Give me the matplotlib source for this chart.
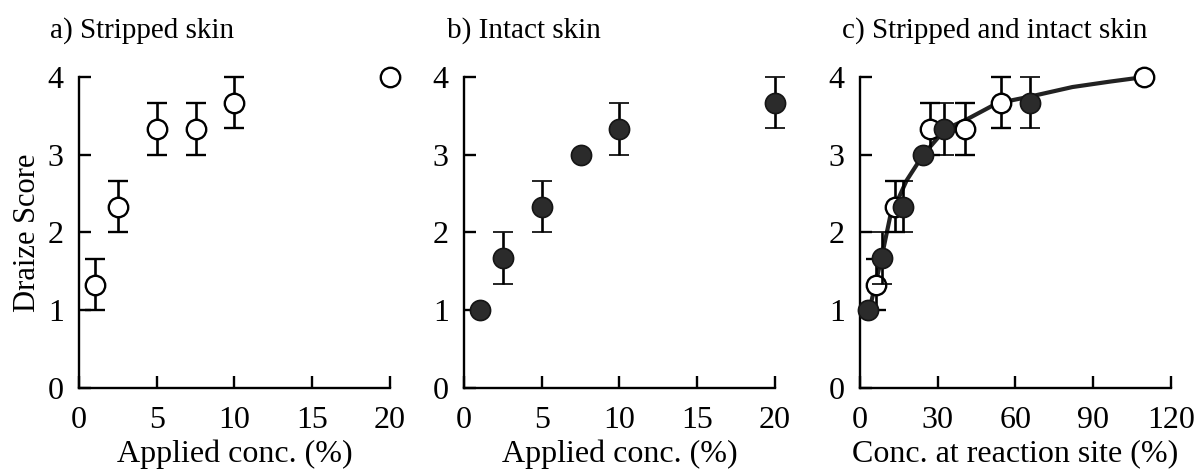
import matplotlib.pyplot as plt

plt.rcParams['font.family'] = ['Liberation Serif', 'DejaVu Serif']

# a) stripped skin (open circles)
strip_x = [1, 2.5, 5, 7.5, 10, 20]
strip_y = [1.33, 2.33, 3.33, 3.33, 3.67, 4.0]
strip_err = [0.33, 0.33, 0.33, 0.33, 0.33, 0.0]

# b) intact skin (filled circles)
intact_x = [1, 2.5, 5, 7.5, 10, 20]
intact_y = [1.0, 1.67, 2.33, 3.0, 3.33, 3.67]
intact_err = [0.0, 0.33, 0.33, 0.0, 0.33, 0.33]

# c) concentration at reaction site
site_strip_x = [6.2, 13.5, 27.0, 40.5, 54.4, 109.7]
site_intact_x = [3.2, 8.4, 16.5, 24.2, 32.4, 65.6]

# fitted curve
curve_x = [3.2, 4.5, 8.4, 11.6, 18, 24.4, 33, 41, 52.8, 66, 82, 96.5, 110]
curve_y = [1.0, 1.13, 1.69, 2.2, 2.67, 3.0, 3.33, 3.45, 3.66, 3.75, 3.87, 3.94, 4.0]

fig = plt.figure(figsize=(12, 4.72), dpi=100)
w, h, bottom = 0.259, 0.659, 0.178
ax1 = fig.add_axes([0.0658, bottom, w, h])
ax2 = fig.add_axes([0.3867, bottom, w, h])
ax3 = fig.add_axes([0.7167, bottom, w, h])

open_kw = dict(fmt='o', ms=14, mfc='white', mec='black', mew=1.7,
               ecolor='black', elinewidth=1.9, capsize=7.5, capthick=1.9,
               clip_on=False, zorder=3)
fill_kw = dict(fmt='o', ms=14.5, mfc='#2b2b2b', mec='#151515', mew=1.2,
               ecolor='black', elinewidth=1.9, capsize=7.5, capthick=1.9,
               clip_on=False, zorder=4)

ax1.errorbar(strip_x, strip_y, yerr=strip_err, **open_kw)
ax2.errorbar(intact_x, intact_y, yerr=intact_err, **fill_kw)

ax3.plot(curve_x, curve_y, color='#222222', lw=3, zorder=2, clip_on=False)
ax3.errorbar(site_strip_x, strip_y, yerr=strip_err, **open_kw)
ax3.errorbar(site_intact_x, intact_y, yerr=intact_err, **fill_kw)

for ax, xmax, step in [(ax1, 20, 5), (ax2, 20, 5), (ax3, 120, 30)]:
    ax.set_xlim(0, xmax)
    ax.set_ylim(0, 4)
    ax.set_xticks(range(0, xmax + 1, step))
    ax.set_yticks(range(0, 5))
    ax.spines['top'].set_visible(False)
    ax.spines['right'].set_visible(False)
    ax.spines['left'].set_linewidth(1.7)
    ax.spines['bottom'].set_linewidth(1.7)
    ax.tick_params(direction='in', length=8.5, width=1.7, labelsize=23)
    ax.tick_params(axis='x', pad=13)
    ax.tick_params(axis='y', pad=11)

ax1.set_xlabel('Applied conc. (%)', fontsize=23, labelpad=3)
ax2.set_xlabel('Applied conc. (%)', fontsize=23, labelpad=3)
ax3.set_xlabel('Conc. at reaction site (%)', fontsize=23, labelpad=3)
ax1.set_ylabel('Draize Score', fontsize=22, labelpad=4)

fig.text(0.0417, 0.92, 'a) Stripped skin', fontsize=21, va='baseline')
fig.text(0.3725, 0.92, 'b) Intact skin', fontsize=21, va='baseline')
fig.text(0.7017, 0.92, 'c) Stripped and intact skin', fontsize=21, va='baseline')

fig.savefig('out.png', dpi=100)
